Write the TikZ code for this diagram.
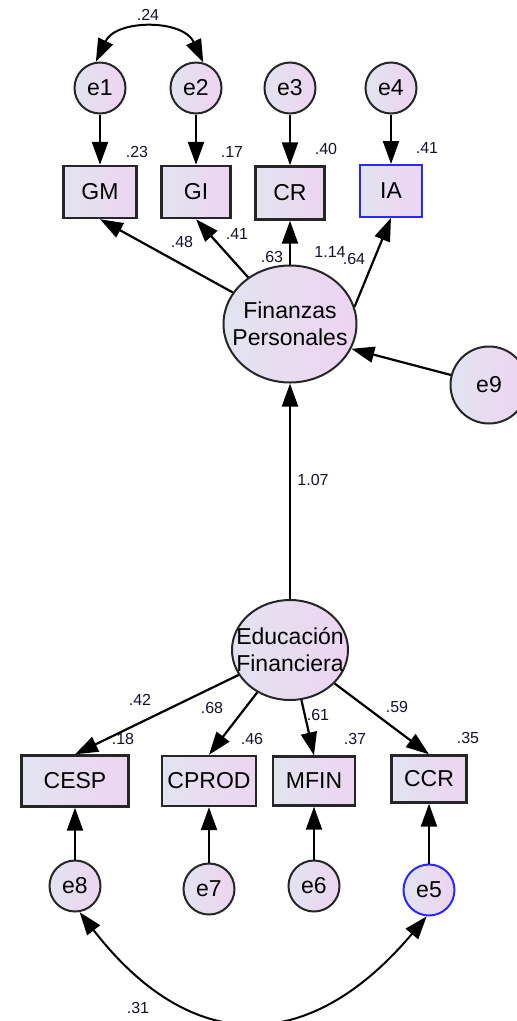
\documentclass[tikz,border=0pt]{standalone}
\usepackage{fontspec}
\setmainfont{Liberation Sans}
\usetikzlibrary{arrows.meta,shapes.geometric}
\definecolor{fillA}{RGB}{226,228,240}
\definecolor{fillB}{RGB}{237,212,241}
\definecolor{edge}{RGB}{38,38,38}
\definecolor{sel}{RGB}{40,40,255}
\definecolor{numc}{RGB}{20,20,40}
\begin{document}
\begin{tikzpicture}[x=1pt,y=-1pt,
  every node/.style={text=black},
  obs/.style={rectangle, draw=edge, line width=2.4pt, left color=fillA, right color=fillB,
    inner sep=0pt, font=\fontsize{23}{26}\selectfont},
  err/.style={circle, draw=edge, line width=2pt, left color=fillA, right color=fillB,
    minimum size=51pt, inner sep=0pt, font=\fontsize{23}{26}\selectfont},
  lat/.style={ellipse, draw=edge, line width=2pt, left color=fillA, right color=fillB,
    inner sep=0pt},
  lattext/.style={align=center, font=\fontsize{23}{27}\selectfont, inner sep=0pt},
  path/.style={-{Triangle[length=23pt,width=16pt]}, line width=2.2pt, draw=black},
  cov/.style={{Triangle[length=23pt,width=16pt]}-{Triangle[length=23pt,width=16pt]},
    line width=2pt, draw=black},
  lbl/.style={font=\fontsize{16}{18}\selectfont, inner sep=0pt, text=numc}
]
\fill[white] (0,0) rectangle (517,1021);
\useasboundingbox (0,0) rectangle (517,1021);

% error terms of the upper indicators
\node[err] (e1) at (100,88) {e1};
\node[err] (e2) at (196,88) {e2};
\node[err] (e3) at (290,88) {e3};
\node[err] (e4) at (391,88) {e4};

% upper indicators
\node[obs, minimum width=73pt, minimum height=52pt] (GM) at (100,192) {GM};
\node[obs, minimum width=69pt, minimum height=52pt] (GI) at (196,192) {GI};
\node[obs, minimum width=69pt, minimum height=53pt] (CR) at (290,193) {CR};
\node[obs, draw=sel, line width=2pt, minimum width=62pt, minimum height=52pt] (IA) at (391,191) {IA};

% latent variables
\node[lat, minimum width=133pt, minimum height=117pt,
  label={[lattext]center:Finanzas\\Personales}] (FP) at (290,324) {};
\node[err, minimum size=77pt] (e9) at (489,385) {e9};
\node[lat, minimum width=116pt, minimum height=100pt,
  label={[lattext]center:Educación\\Financiera}] (Ed) at (290,650) {};

% lower indicators
\node[obs, minimum width=107pt, minimum height=51pt] (CESP) at (75,781) {CESP};
\node[obs, minimum width=94pt, minimum height=50pt] (CPROD) at (209,781) {CPROD};
\node[obs, minimum width=82pt, minimum height=49pt] (MFIN) at (314,781) {MFIN};
\node[obs, minimum width=75pt, minimum height=47pt] (CCR) at (429,779) {CCR};

% error terms of the lower indicators
\node[err] (e8) at (75,886) {e8};
\node[err] (e7) at (209,889) {e7};
\node[err] (e6) at (314,886) {e6};
\node[err, draw=sel] (e5) at (429,890) {e5};

% regression paths
\draw[path] (e1) -- (GM);
\draw[path] (e2) -- (GI);
\draw[path] (e3) -- (CR);
\draw[path] (e4) -- (IA);
\draw[path] (FP) -- (GM.south);
\draw[path] (FP) -- (GI.south);
\draw[path] (FP) -- (CR);
\draw[path] (FP.15) -- (IA.south);
\draw[path] (e9) -- (FP.-22);
\draw[path] (Ed) -- (FP);
\draw[path] (Ed) -- (CESP.north);
\draw[path] (Ed) -- (CPROD.north);
\draw[path] (Ed) -- (MFIN.north);
\draw[path] (Ed) -- (CCR.north);
\draw[path] (e8) -- (CESP);
\draw[path] (e7) -- (CPROD);
\draw[path] (e6) -- (MFIN);
\draw[path] (e5) -- (CCR);

% covariances
\draw[cov] (e1.99) .. controls (116,19) and (183,19) .. (e2.74);
\draw[cov] (e8.-80) .. controls (191,1056) and (309,1056) .. (e5.-95);

% estimates
\node[lbl] (c12) at (148,15) {.24};
\node[lbl] (rGM) at (137,152) {.23};
\node[lbl] (rGI) at (232,152) {.17};
\node[lbl] (rCR) at (326,149) {.40};
\node[lbl] (rIA) at (427,148) {.41};
\node[lbl] (wGM) at (182,242) {.48};
\node[lbl] (wGI) at (237,234) {.41};
\node[lbl] (wCR) at (272,257) {.63};
\node[lbl] (wFP) at (330,252) {1.14};
\node[lbl] (wIA) at (354,259) {.64};
\node[lbl] (wEd) at (313,480) {1.07};
\node[lbl] (wCESP) at (140,700) {.42};
\node[lbl] (wCPROD) at (212,708) {.68};
\node[lbl] (wMFIN) at (318,715) {.61};
\node[lbl] (wCCR) at (397,707) {.59};
\node[lbl] (rCESP) at (123,739) {.18};
\node[lbl] (rCPROD) at (252,739) {.46};
\node[lbl] (rMFIN) at (355,739) {.37};
\node[lbl] (rCCR) at (468,738) {.35};
\node[lbl] (c58) at (138,1008) {.31};
\end{tikzpicture}
\end{document}
